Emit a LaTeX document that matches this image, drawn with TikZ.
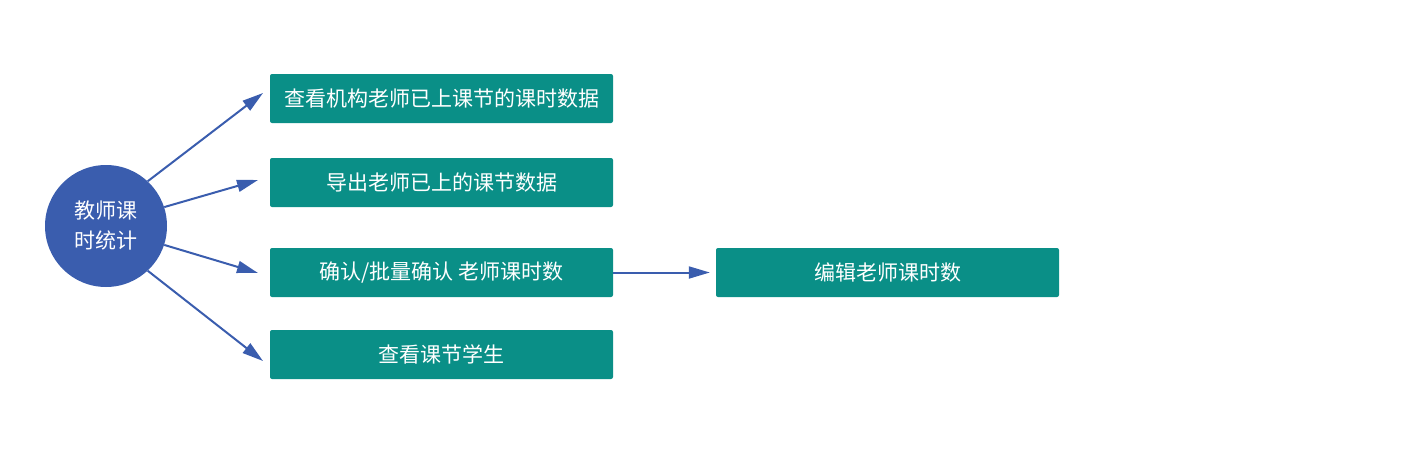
\documentclass[tikz,border=0pt]{standalone}
\usepackage{fontspec}
\newfontfamily\cjk{Noto Sans CJK SC}
\usetikzlibrary{arrows.meta}
\definecolor{teal1}{HTML}{0A8F87}
\definecolor{blue1}{HTML}{3A5DAE}
\begin{document}
\begin{tikzpicture}[x=1pt,y=-1pt,
  box/.style={draw=none,fill=teal1,text=white,minimum width=343pt,minimum height=49pt,rounded corners=2pt,inner sep=0pt,font=\cjk\fontsize{21}{25}\selectfont},
  hub/.style={circle,fill=blue1,text=white,minimum size=122pt,inner sep=0pt,align=center,font=\cjk\fontsize{21}{30}\selectfont},
  arr/.style={draw=blue1,line width=2pt,-{Triangle[length=21pt,width=12pt]}}]
\useasboundingbox (0,0) rectangle (1421,453);
\node[hub] (c) at (106,226) {教师课\\时统计};
\node[box] (b1) at (441.5,98.5) {查看机构老师已上课节的课时数据};
\node[box] (b2) at (441.5,182.5) {导出老师已上的课节数据};
\node[box] (b3) at (441.5,272.5) {确认/批量确认 老师课时数};
\node[box] (b4) at (441.5,354.5) {查看课节学生};
\node[box] (b5) at (887.5,272.5) {编辑老师课时数};
\coordinate (e1) at (263,93);
\coordinate (e2) at (258,180);
\coordinate (e3) at (258,273);
\coordinate (e4) at (263,361);
\draw[arr] (c.47) -- (e1);
\draw[arr] (c.18) -- (e2);
\draw[arr] (c.-18) -- (e3);
\draw[arr] (c.-47) -- (e4);
\draw[arr] (b3.east) -- ([xshift=-6pt]b5.west);
\end{tikzpicture}
\end{document}
